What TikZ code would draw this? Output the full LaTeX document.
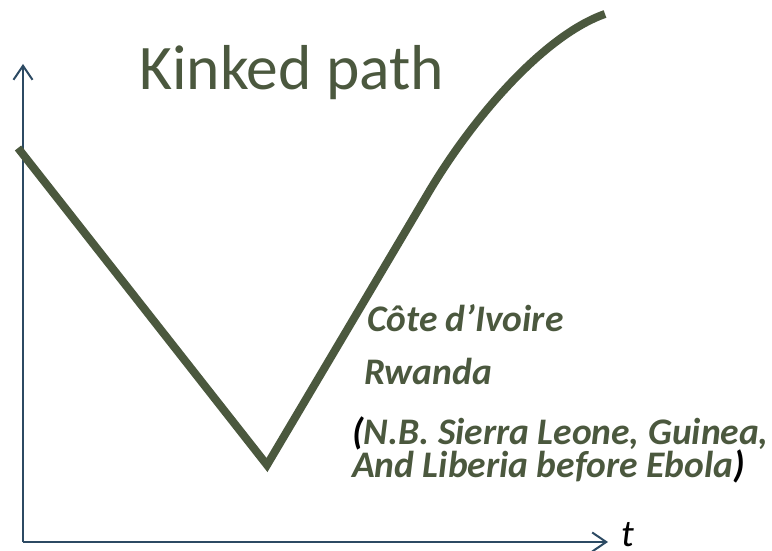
\documentclass[tikz,border=0pt]{standalone}
\usepackage{fontspec}
\setmainfont{Carlito}
\usetikzlibrary{arrows.meta}

\definecolor{pathgreen}{HTML}{4B583E}
\definecolor{axisblue}{HTML}{2C4A63}

\begin{document}
\begin{tikzpicture}[x=1pt,y=-1pt,
    axis/.style={draw=axisblue,line width=2pt,-{Straight Barb[length=14pt,width=19pt]}},
    kinked/.style={draw=pathgreen,line width=8pt},
    country/.style={anchor=base west,inner sep=0pt,text=pathgreen,
      font=\fontsize{37.5}{40}\selectfont\bfseries\itshape}]
      \useasboundingbox (0,0) rectangle (772,551);

      % axes
      \coordinate (origin) at (23,542);
      \coordinate (ytip) at (23,64);
      \coordinate (xtip) at (608,542);
      \draw[axis] (origin) -- (ytip);
      \draw[axis] (origin) -- (xtip);
      \node[anchor=base west,inner sep=0pt,font=\fontsize{38}{38}\selectfont\itshape] (tlabel) at (621,546) {t};

      % the path
      \coordinate (start) at (18,148);
      \coordinate (kink) at (267,465);
      \coordinate (bend) at (430,190);
      \coordinate (finish) at (605,14);
      \draw[kinked] (start) -- (kink) -- (bend)
        .. controls (475,115) and (545,35) .. (finish);

      \node[anchor=base west,inner sep=0pt,text=pathgreen,
        font=\fontsize{63.5}{64}\selectfont] (title) at (139,90) {Kinked path};

      \node[country] (civ) at (367,331) {Côte d’Ivoire};
      \node[country] (rwa) at (364,384) {Rwanda};
      \node[country] (nbfirst) at (352,444)
        {\textcolor{black}{(}N.B. Sierra Leone, Guinea,};
      \node[country] (nbsecond) at (352,477)
        {And Liberia before Ebola\textcolor{black}{)}};
    \end{tikzpicture}
\end{document}
